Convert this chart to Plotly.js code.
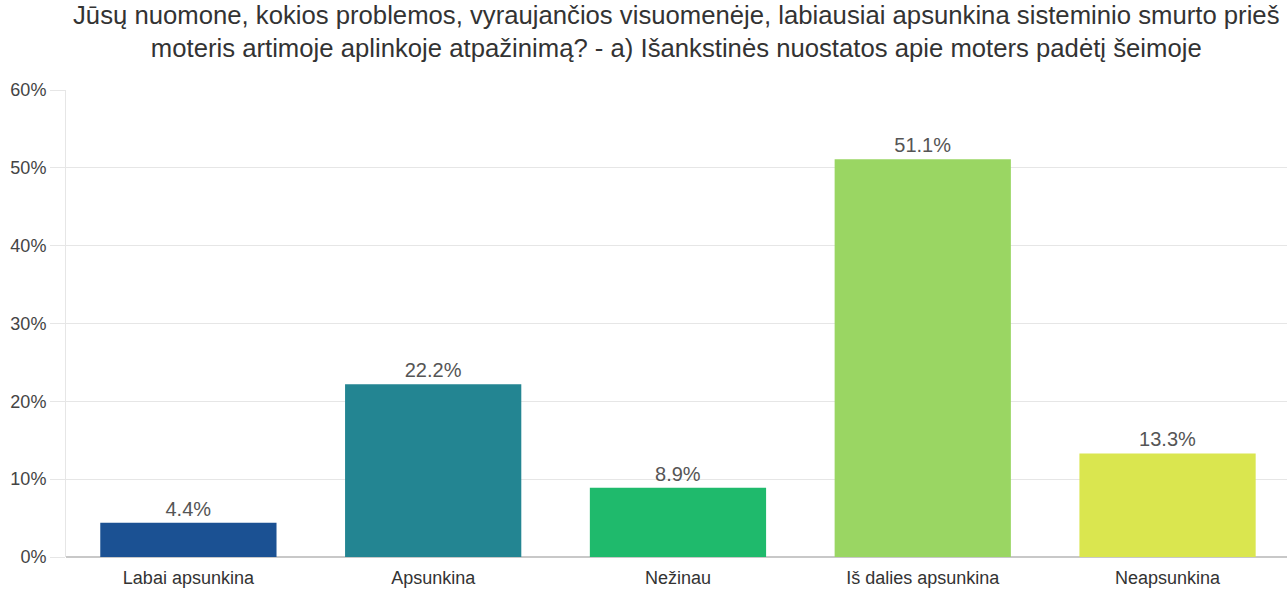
<!DOCTYPE html>
<html>
<head>
<meta charset="utf-8">
<script src="https://cdn.plot.ly/plotly-3.0.1.min.js"></script>
<style>html,body{margin:0;padding:0;background:#fff;}#chart{width:1287px;height:592px;}</style>
</head>
<body>
<div id="chart"></div>
<script>
const categories = ["Labai apsunkina", "Apsunkina", "Nežinau", "Iš dalies apsunkina", "Neapsunkina"];
const values = [4.4, 22.2, 8.9, 51.1, 13.3];
const barColors = ["#1b5193", "#238592", "#1fba6c", "#9ad663", "#dae64f"];
const yTicks = [0, 10, 20, 30, 40, 50, 60];
const yTickLabels = ["0%", "10%", "20%", "30%", "40%", "50%", "60%"];
const titleText = "Jūsų nuomone, kokios problemos, vyraujančios visuomenėje, labiausiai apsunkina sisteminio smurto prieš<br>moteris artimoje aplinkoje atpažinimą? - a) Išankstinės nuostatos apie moters padėtį šeimoje";

const FONT = "Liberation Sans, Arial, sans-serif";

const trace = {
  type: "bar",
  x: categories,
  y: values,
  marker: {color: barColors},
  width: 0.72,
  text: values.map(v => v.toFixed(1) + "%"),
  textposition: "outside",
  cliponaxis: false,
  textfont: {family: FONT, size: 20, color: "#555"},
  hoverinfo: "none"
};

const layout = {
  width: 1287, height: 592,
  margin: {l: 66, r: 0, t: 90, b: 35},
  paper_bgcolor: "#fff", plot_bgcolor: "#fff",
  font: {family: FONT, color: "#333"},
  showlegend: false,
  annotations: [{
    text: titleText, xref: "paper", yref: "paper",
    x: 0.5, xanchor: "center", y: 1.126, yanchor: "middle",
    showarrow: false, align: "center",
    font: {family: FONT, size: 25.7, color: "#333"}
  }],
  xaxis: {
    range: [-0.5, 4.488],
    showgrid: false, zeroline: false,
    showline: false,
    ticks: "outside", ticklen: 4, tickcolor: "rgba(0,0,0,0)",
    tickfont: {family: FONT, size: 18, color: "#333"},
    fixedrange: true
  },
  yaxis: {
    range: [0, 60],
    tickvals: yTicks, ticktext: yTickLabels,
    showgrid: true, gridcolor: "#e6e6e6", gridwidth: 1,
    zeroline: true, zerolinecolor: "#c8c8c8", zerolinewidth: 1.5,
    showline: true, linecolor: "#e6e6e6", linewidth: 1,
    ticks: "outside", ticklen: 15, tickcolor: "#e6e6e6", tickwidth: 1,
    tickfont: {family: FONT, size: 18, color: "#444"},
    fixedrange: true
  }
};

Plotly.newPlot("chart", [trace], layout, {displayModeBar: false, staticPlot: true});
</script>
</body>
</html>
